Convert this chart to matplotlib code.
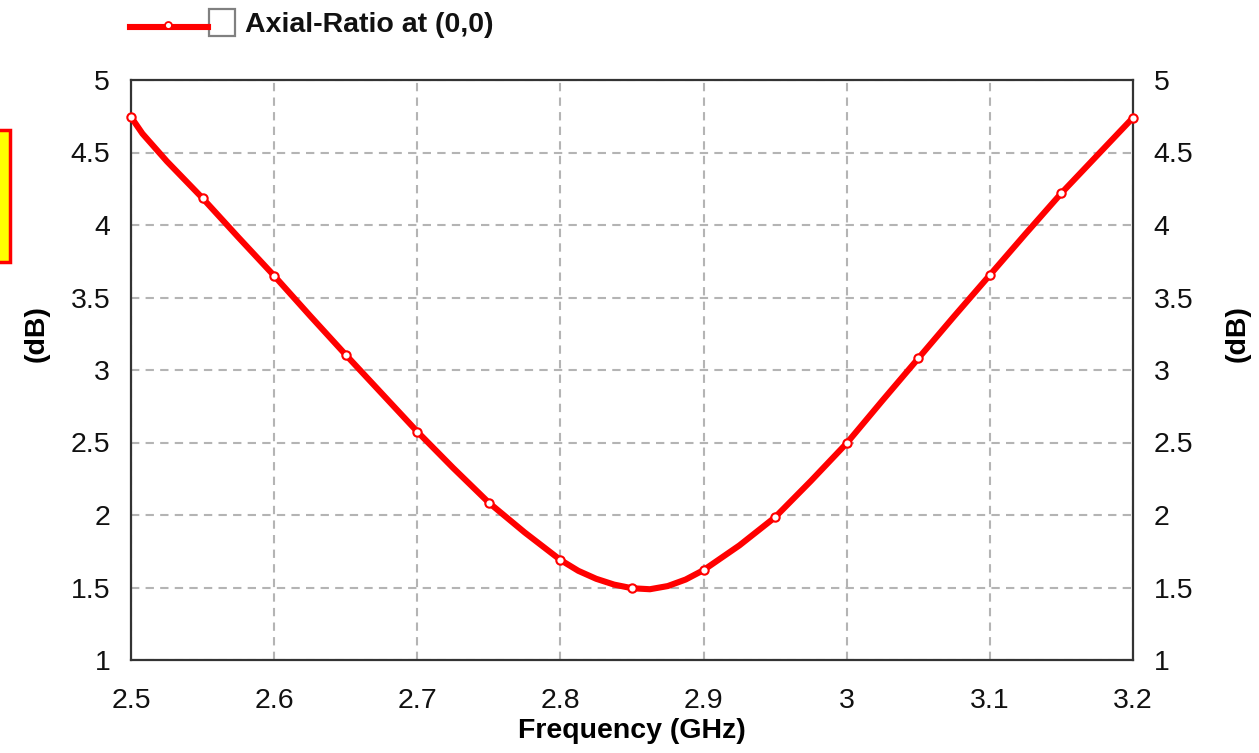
#!/usr/bin/env python3
"""Axial ratio at (0,0) vs frequency, redrawn in the style of the simulator export."""
import numpy as np
import matplotlib
matplotlib.use("Agg")  # headless
import matplotlib.pyplot as plt
from matplotlib.lines import Line2D
from matplotlib.patches import Rectangle

# data (GHz, dB)
freq_ghz = [2.500, 2.508, 2.525, 2.550, 2.575, 2.600, 2.625, 2.650, 2.675, 2.700,
            2.725, 2.750, 2.775, 2.800, 2.8125, 2.825, 2.8375, 2.850, 2.8625,
            2.875, 2.8875, 2.900, 2.925, 2.950, 2.975, 3.000, 3.025, 3.050,
            3.075, 3.100, 3.125, 3.150, 3.175, 3.200]
axial_ratio_db = [4.745, 4.63, 4.44, 4.185, 3.915, 3.65, 3.375, 3.105, 2.84, 2.575,
                  2.325, 2.085, 1.88, 1.69, 1.615, 1.56, 1.52, 1.495, 1.488,
                  1.51, 1.555, 1.62, 1.79, 1.985, 2.235, 2.495, 2.79, 3.08,
                  3.37, 3.655, 3.94, 4.22, 4.48, 4.74]
xticks = [2.5, 2.6, 2.7, 2.8, 2.9, 3.0, 3.1, 3.2]
xtick_labels = ['2.5', '2.6', '2.7', '2.8', '2.9', '3', '3.1', '3.2']
yticks = [1, 1.5, 2, 2.5, 3, 3.5, 4, 4.5, 5]
ytick_labels = ['1', '1.5', '2', '2.5', '3', '3.5', '4', '4.5', '5']
series_name = 'Axial-Ratio at (0,0)'

plt.rcParams['font.family'] = ['Liberation Sans', 'DejaVu Sans']
FS = 20.5
RED = '#ff0000'

# markers only on the 50 MHz sample points
mark_idx = [i for i, f in enumerate(freq_ghz) if abs(f * 20 - round(f * 20)) < 1e-6]

W, H = 1259, 753
fig = plt.figure(figsize=(W/100, H/100), dpi=100)
ax = fig.add_axes([131/W, 1 - 660/H, (1133-131)/W, (660-80)/H])

ax.plot(freq_ghz, axial_ratio_db, color=RED, lw=4.4, solid_joinstyle='round',
        marker='o', markevery=mark_idx, ms=6, mfc='white', mec=RED, mew=1.5,
        zorder=3, clip_on=False)

ax.set_xlim(2.5, 3.2)
ax.set_ylim(1, 5)
ax.set_xticks(xticks)
ax.set_xticklabels(xtick_labels)
ax.set_yticks(yticks)
ax.set_yticklabels(ytick_labels)
ax.tick_params(axis='both', length=0, labelsize=FS, colors='#111111')
ax.tick_params(axis='x', pad=20)
ax.tick_params(axis='y', pad=15)
ax.grid(True, color='#b4b4b4', lw=1.5, ls=(0, (4, 3)))
for s in ax.spines.values():
    s.set_linewidth(1.6)
    s.set_color('#333333')

ax.set_xlabel('Frequency (GHz)', fontsize=FS, fontweight='bold', labelpad=3)
ax.set_ylabel('(dB)', fontsize=FS, fontweight='bold')
ax.yaxis.set_label_coords(-0.081, 0.562)

# mirrored axis on the right
ax2 = ax.twinx()
ax2.set_ylim(ax.get_ylim())
ax2.set_yticks(yticks)
ax2.set_yticklabels(ytick_labels)
ax2.tick_params(axis='y', length=0, labelsize=FS, colors='#111111', pad=15)
ax2.set_ylabel('(dB)', fontsize=FS, fontweight='bold', rotation=90)
ax2.yaxis.set_label_coords(1.091, 0.562)
for s in ax2.spines.values():
    s.set_visible(False)

# legend drawn like the exported one: line + marker, checkbox, label
fig.add_artist(Line2D([130/W, 208/W], [1 - 27/H, 1 - 27/H], color=RED, lw=4.4,
                      transform=fig.transFigure))
fig.add_artist(Line2D([168/W], [1 - 25/H], color=RED, marker='o', ms=5,
                      mfc='white', mec=RED, mew=1.3, transform=fig.transFigure))
fig.add_artist(Rectangle((209/W, 1 - 36/H), 26/W, 27/H, transform=fig.transFigure,
                         facecolor='white', edgecolor='#808080', lw=1.6))
fig.text(245/W, 1 - 25/H, series_name, fontsize=FS, fontweight='bold',
         ha='left', va='center', color='#111111')

# yellow marker box cut by the left edge
fig.add_artist(Rectangle((-12/W, 1 - 262/H), 22/W, 132/H, transform=fig.transFigure,
                         facecolor='#ffff00', edgecolor=RED, lw=2.5))

fig.savefig('out.png', dpi=100)
